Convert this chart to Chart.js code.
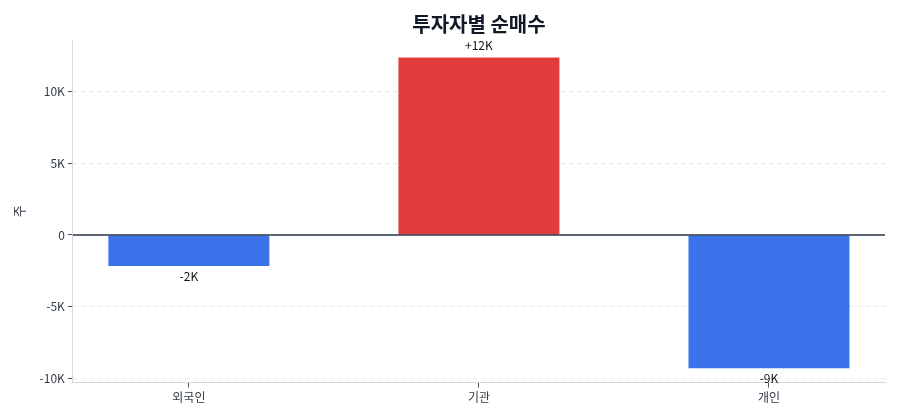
<!DOCTYPE html>
<html>
<head>
<meta charset="utf-8">
<script src="https://cdn.jsdelivr.net/npm/chart.js@4"></script>
<style>
  html, body { margin: 0; padding: 0; background: #fff; }
  #wrap { width: 900px; height: 420px; }
</style>
</head>
<body>
<div id="wrap"><canvas id="myChart" width="900" height="420"></canvas></div>
<script>
const categories = ["외국인", "기관", "개인"];
const netBuy = [-2170, 12380, -9300];
const valueLabels = ["-2K", "+12K", "-9K"];
const barColors = ["#3b73ea", "#e03c3c", "#3b73ea"];
const yTicks = [-10000, -5000, 0, 5000, 10000];

const FONT = "'Noto Sans CJK KR', 'Noto Sans', sans-serif";

function fmtK(v) {
  if (v === 0) return "0";
  return v / 1000 + "K";
}

// zero line + value labels on top of bars
const barLabels = {
  id: "barLabels",
  afterDatasetsDraw(chart) {
    const ctx = chart.ctx;
    const y = chart.scales.y;
    const area = chart.chartArea;
    const zero = y.getPixelForValue(0);
    ctx.save();
    ctx.strokeStyle = "#2d3748";
    ctx.lineWidth = 1.5;
    ctx.beginPath();
    ctx.moveTo(area.left, zero);
    ctx.lineTo(area.right, zero);
    ctx.stroke();

    ctx.font = "12px " + FONT;
    ctx.fillStyle = "#111111";
    ctx.textAlign = "center";
    ctx.textBaseline = "middle";
    chart.getDatasetMeta(0).data.forEach((bar, i) => {
      const v = netBuy[i];
      const py = y.getPixelForValue(v);
      ctx.fillText(valueLabels[i], bar.x, v >= 0 ? py - 12 : py + 10);
    });
    ctx.restore();
  }
};

function mainEvent() {
  const ctx = document.getElementById("myChart");
  new Chart(ctx, {
    type: "bar",
    data: {
      datasets: [{
        data: netBuy.map((v, i) => ({ x: i, y: v })),
        backgroundColor: barColors,
        borderWidth: 0,
        barPercentage: 0.555,
        categoryPercentage: 1
      }]
    },
    options: {
      responsive: false,
      animation: false,
      devicePixelRatio: 1,
      layout: { padding: { left: 11, right: 15, top: 0, bottom: 12 } },
      plugins: {
        legend: { display: false },
        tooltip: { enabled: false },
        title: {
          display: true,
          fullSize: false,
          text: "투자자별 순매수",
          color: "#111827",
          font: { family: FONT, size: 20, weight: "bold" },
          padding: { top: 12, bottom: 4 }
        }
      },
      scales: {
        x: {
          type: "linear",
          min: -0.4,
          max: 2.4,
          offset: false,
          afterBuildTicks: (axis) => {
            axis.ticks = categories.map((c, i) => ({ value: i }));
          },
          grid: {
            display: true,
            offset: false,
            drawOnChartArea: false,
            tickColor: "#4a5568",
            tickLength: 5
          },
          border: { display: true, color: "#d5d8de", width: 1 },
          ticks: {
            color: "#333a45",
            font: { family: FONT, size: 12 },
            padding: 3,
            callback: (v) => categories[v]
          }
        },
        y: {
          min: -10300,
          max: 13600,
          afterBuildTicks: (axis) => {
            axis.ticks = yTicks.map((v) => ({ value: v }));
          },
          grid: {
            color: "#e4e7eb",
            tickColor: "#4a5568",
            tickLength: 5
          },
          border: { display: true, color: "#d5d8de", width: 1, dash: [4, 4] },
          ticks: {
            color: "#333a45",
            font: { family: FONT, size: 12 },
            padding: 3,
            callback: (v) => fmtK(v)
          },
          title: {
            display: true,
            text: "주",
            color: "#333a45",
            font: { family: FONT, size: 13 },
            padding: { top: 0, bottom: 10 }
          }
        }
      }
    },
    plugins: [barLabels]
  });
}

document.addEventListener("DOMContentLoaded", () => mainEvent());
</script>
</body>
</html>
